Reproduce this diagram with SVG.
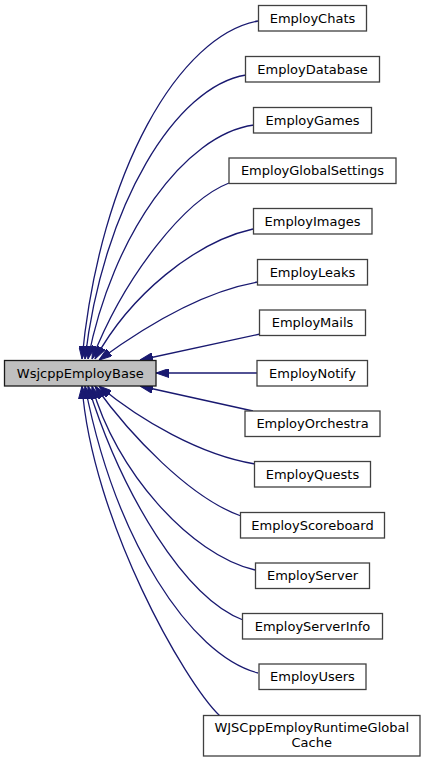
<svg xmlns="http://www.w3.org/2000/svg" width="427" height="762" viewBox="0 0 427 762">
<style>
.n rect{fill:#ffffff;stroke:#404040;stroke-width:1.3}
.base rect{fill:#bfbfbf;stroke:#1a1a1a;stroke-width:1.3}
text{font-family:"DejaVu Sans",sans-serif;font-size:13px;fill:#000000;text-anchor:middle}
.e path{fill:none;stroke:#191970;stroke-width:1.3;marker-end:url(#ah)}
</style>
<defs>
<marker id="ah" viewBox="0 0 13 9" refX="13" refY="4.5" markerWidth="13" markerHeight="9" markerUnits="userSpaceOnUse" orient="auto">
<path d="M0,0 L13,4.5 L0,9 Z" fill="#191970" stroke="#191970" stroke-width="1"/>
</marker>
</defs>
<rect width="427" height="762" fill="#ffffff"/>
<g class="e" id="edges">
<path d="M258,21 C180,35 100,170 82,359"/>
<path d="M246,75 C176,86 103,205 85,359"/>
<path d="M254,125 C185,134 112,235 88,359"/>
<path d="M229,183 C185,200 125,275 92,359"/>
<path d="M253,229 C195,242 130,295 95,359"/>
<path d="M258,282 C200,292 140,330 99,360"/>
<path d="M260,334 L140,360"/>
<path d="M257,373 L156,373"/>
<path d="M253,411 L140,386"/>
<path d="M255,464 C200,455 140,420 99,386"/>
<path d="M241,516 C190,498 130,435 95,386"/>
<path d="M255,570 C190,555 115,470 92,386"/>
<path d="M243,620 C185,598 122,495 88,386"/>
<path d="M258,673 C190,655 115,540 85,386"/>
<path d="M220,716 C185,683 92,520 82,386"/>
</g>
<g class="base" id="WsjcppEmployBase"><rect x="4.5" y="360.5" width="151.5" height="25.5"/><text x="80.25" y="377.5">WsjcppEmployBase</text></g>
<g class="n" id="EmployChats"><rect x="258.5" y="5.5" width="108" height="25.5"/><text x="312.5" y="22.5">EmployChats</text></g>
<g class="n" id="EmployDatabase"><rect x="245.5" y="56.5" width="134" height="25.5"/><text x="312.5" y="73.5">EmployDatabase</text></g>
<g class="n" id="EmployGames"><rect x="253.5" y="107.5" width="118" height="25.5"/><text x="312.5" y="124.5">EmployGames</text></g>
<g class="n" id="EmployGlobalSettings"><rect x="229" y="158" width="167" height="25.5"/><text x="312.5" y="175">EmployGlobalSettings</text></g>
<g class="n" id="EmployImages"><rect x="253.5" y="208.5" width="118.5" height="25.5"/><text x="312.5" y="225.5">EmployImages</text></g>
<g class="n" id="EmployLeaks"><rect x="257.5" y="259.5" width="110" height="25.5"/><text x="312.5" y="276.5">EmployLeaks</text></g>
<g class="n" id="EmployMails"><rect x="259.5" y="310" width="106" height="25.5"/><text x="312.5" y="327">EmployMails</text></g>
<g class="n" id="EmployNotify"><rect x="257" y="360.5" width="110.5" height="25.5"/><text x="312.5" y="377.5">EmployNotify</text></g>
<g class="n" id="EmployOrchestra"><rect x="245" y="411" width="135" height="25.5"/><text x="312.5" y="428">EmployOrchestra</text></g>
<g class="n" id="EmployQuests"><rect x="254.5" y="461.5" width="116" height="25.5"/><text x="312.5" y="478.5">EmployQuests</text></g>
<g class="n" id="EmployScoreboard"><rect x="240.5" y="512.5" width="144" height="25.5"/><text x="312.5" y="529.5">EmployScoreboard</text></g>
<g class="n" id="EmployServer"><rect x="255.5" y="563" width="114" height="25.5"/><text x="312.5" y="580">EmployServer</text></g>
<g class="n" id="EmployServerInfo"><rect x="242.5" y="613.5" width="140" height="25.5"/><text x="312.5" y="630.5">EmployServerInfo</text></g>
<g class="n" id="EmployUsers"><rect x="259" y="664" width="107" height="25.5"/><text x="312.5" y="681">EmployUsers</text></g>
<g class="n" id="WJSCppEmployRuntimeGlobalCache"><rect x="203.5" y="715.5" width="216.5" height="40.5"/><text x="311.75" y="732">WJSCppEmployRuntimeGlobal</text><text x="311.75" y="747">Cache</text></g>
</svg>
